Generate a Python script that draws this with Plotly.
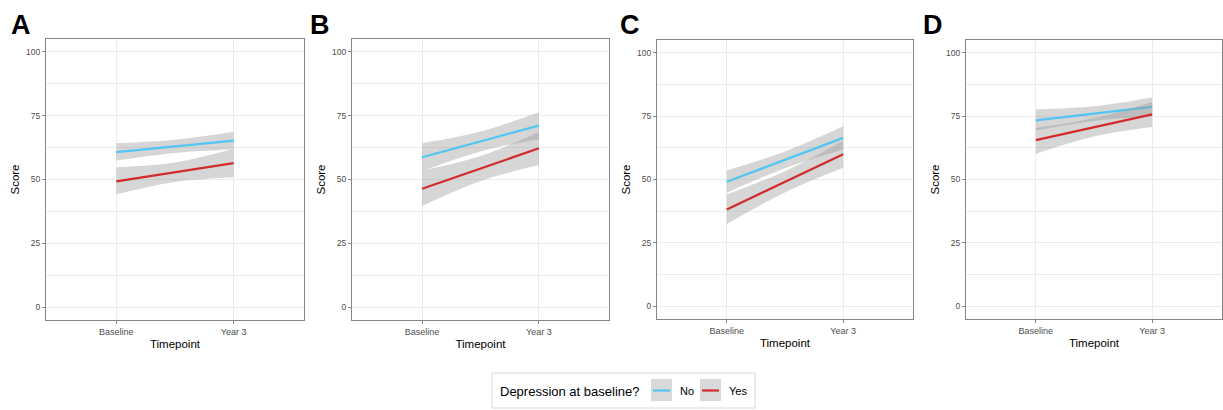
import plotly.graph_objects as go

# ---- data ----
panels = ["A", "B", "C", "D"]
time_labels = ["Baseline", "Year 3"]
time_years = [0, 3]
band_years = [0, 1.5, 3]
groups = ["No", "Yes"]

no_mean = {"A": [60.7, 65.2], "B": [58.7, 71.1], "C": [49.1, 66.4], "D": [73.3, 78.6]}
no_lower = {"A": [57.4, 60.35, 61.8], "B": [53.3, 61.0, 65.8], "C": [44.8, 54.45, 61.8], "D": [69.3, 73.05, 74.9]}
no_upper = {"A": [64.2, 65.55, 68.7], "B": [64.2, 68.8, 76.3], "C": [53.5, 61.05, 71.0], "D": [77.6, 78.85, 82.3]}

yes_mean = {"A": [49.3, 56.4], "B": [46.4, 62.2], "C": [38.2, 60.0], "D": [65.5, 75.7]}
yes_lower = {"A": [44.2, 49.05, 50.9], "B": [39.6, 49.4, 55.7], "C": [32.5, 44.9, 54.6], "D": [60.2, 67.0, 70.7]}
yes_upper = {"A": [54.8, 56.65, 62.0], "B": [53.5, 59.2, 68.6], "C": [44.1, 53.3, 65.3], "D": [70.3, 74.2, 80.6]}

y_ticks = [0, 25, 50, 75, 100]

# ---- styling ----
W, H = 1223, 410
COL = {"No": "#52C6F2", "Yes": "#D32B2B"}
BAND = "rgba(153,153,153,0.4)"
GRID = "#ebebeb"
BORDER = "#858585"
TICKC = "#4d4d4d"
FONT = "Liberation Sans, Arial, sans-serif"

# pixel boxes of each panel: (left, right, top, bottom)
boxes = {
    "A": (46, 304, 39, 320),
    "B": (352, 609, 39, 320),
    "C": (657, 913, 40, 319),
    "D": (966, 1222, 40, 319),
}
letter_pos = {"A": 9, "B": 308, "C": 618, "D": 921}

fig = go.Figure()
means = {"No": no_mean, "Yes": yes_mean}
lows = {"No": no_lower, "Yes": yes_lower}
ups = {"No": no_upper, "Yes": yes_upper}

for i, p in enumerate(panels):
    xa = "x" if i == 0 else f"x{i+1}"
    ya = "y" if i == 0 else f"y{i+1}"
    for g in groups:
        fig.add_trace(go.Scatter(x=band_years, y=lows[g][p], mode="lines",
                                 line=dict(width=0, shape="spline"), xaxis=xa, yaxis=ya,
                                 showlegend=False, hoverinfo="skip"))
        fig.add_trace(go.Scatter(x=band_years, y=ups[g][p], mode="lines", fill="tonexty",
                                 fillcolor=BAND, line=dict(width=0, shape="spline"),
                                 xaxis=xa, yaxis=ya, showlegend=False, hoverinfo="skip"))
        fig.add_trace(go.Scatter(x=time_years, y=means[g][p], mode="lines",
                                 line=dict(color=COL[g], width=2.2), name=g,
                                 xaxis=xa, yaxis=ya, showlegend=False))

    l, r, t, b = boxes[p]
    xkey = "xaxis" if i == 0 else f"xaxis{i+1}"
    ykey = "yaxis" if i == 0 else f"yaxis{i+1}"
    fig.layout[xkey] = dict(
        domain=[l / W, r / W], anchor=ya, range=[-1.8, 4.8],
        tickvals=time_years, ticktext=time_labels,
        showgrid=True, gridcolor=GRID, gridwidth=1, zeroline=False,
        showline=True, mirror=True, linecolor=BORDER, linewidth=1,
        ticks="outside", ticklen=3, tickcolor=BORDER,
        tickfont=dict(size=9, color=TICKC, family=FONT),
        title=dict(text="Timepoint", font=dict(size=11.5, color="black", family=FONT), standoff=4),
    )
    fig.layout[ykey] = dict(
        domain=[1 - b / H, 1 - t / H], anchor=xa, range=[-5, 105],
        tickvals=y_ticks,
        showgrid=True, gridcolor=GRID, gridwidth=1, zeroline=False,
        minor=dict(dtick=12.5, tick0=0, showgrid=True, gridcolor=GRID, gridwidth=0.6),
        showline=True, mirror=True, linecolor=BORDER, linewidth=1,
        ticks="outside", ticklen=3, tickcolor=BORDER,
        tickfont=dict(size=8.5, color=TICKC, family=FONT),
        title=dict(text="Score", font=dict(size=11.5, color="black", family=FONT), standoff=4),
    )
    fig.add_annotation(text=f"<b>{p}</b>", xref="paper", yref="paper",
                       x=letter_pos[p] / W, y=1 - 8 / H, xanchor="left", yanchor="top",
                       showarrow=False, font=dict(size=27, color="black", family=FONT))

# ---- manual legend (ggplot style) ----
def px(x):
    return x / W

def py(y):
    return 1 - y / H

shapes = [
    dict(type="rect", xref="paper", yref="paper", x0=px(492), x1=px(755), y0=py(408), y1=py(373),
         line=dict(color="#d9d9d9", width=1), fillcolor="white", layer="below"),
]
key_boxes = {"No": (651, 672), "Yes": (700, 721)}
for g in groups:
    k0, k1 = key_boxes[g]
    shapes.append(dict(type="rect", xref="paper", yref="paper", x0=px(k0), x1=px(k1),
                       y0=py(401), y1=py(379), line=dict(width=0), fillcolor="#d9d9d9"))
    shapes.append(dict(type="line", xref="paper", yref="paper", x0=px(k0 + 2), x1=px(k1 - 2),
                       y0=py(390.5), y1=py(390.5), line=dict(color=COL[g], width=2.2)))
fig.update_layout(shapes=shapes)
fig.add_annotation(text="Depression at baseline?", xref="paper", yref="paper", x=px(498), y=py(391),
                   xanchor="left", yanchor="middle", showarrow=False,
                   font=dict(size=13, color="black", family=FONT))
fig.add_annotation(text="No", xref="paper", yref="paper", x=px(678), y=py(391),
                   xanchor="left", yanchor="middle", showarrow=False,
                   font=dict(size=11, color="black", family=FONT))
fig.add_annotation(text="Yes", xref="paper", yref="paper", x=px(727), y=py(391),
                   xanchor="left", yanchor="middle", showarrow=False,
                   font=dict(size=11, color="black", family=FONT))

fig.update_layout(width=W, height=H, autosize=False,
                  margin=dict(l=0, r=0, t=0, b=0),
                  paper_bgcolor="white", plot_bgcolor="white",
                  showlegend=False, font=dict(family=FONT))

fig.write_html("out.html", config={"displayModeBar": False},
               post_script="document.body.style.margin='0';document.body.style.overflow='hidden';")
